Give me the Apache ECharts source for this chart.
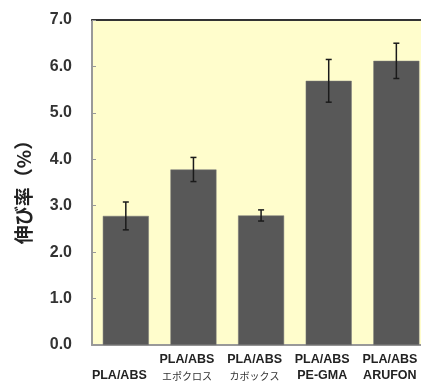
<!DOCTYPE html>
<html>
<head>
<meta charset="utf-8">
<script src="https://cdn.jsdelivr.net/npm/echarts@6/dist/echarts.min.js"></script>
<style>html,body{margin:0;padding:0;background:#fff;overflow:hidden;width:421px;height:387px;}#c{width:433px;height:387px;}</style>
</head>
<body>
<div id="c"></div>
<script>
const categories = ['PLA/ABS', 'PLA/ABS\nエポクロス', 'PLA/ABS\nカボックス', 'PLA/ABS\nPE-GMA', 'PLA/ABS\nARUFON'];
const values = [2.78, 3.78, 2.79, 5.69, 6.12];
const errors = [0.30, 0.26, 0.12, 0.46, 0.38];
const yTicks = [0, 1, 2, 3, 4, 5, 6, 7];
const yName = '伸び率（%）';

const chart = echarts.init(document.getElementById('c'));
const errData = values.map((v, i) => [i, v - errors[i], v + errors[i]]);

chart.setOption({
  animation: false,
  grid: {left: 92, top: 20, right: 0, bottom: 42, containLabel: false, show: true, backgroundColor: '#FFFDCC', borderWidth: 0},
  xAxis: [{
    type: 'category',
    data: categories,
    axisLine: {lineStyle: {color: '#999', width: 2}},
    axisTick: {inside: true, length: 4, lineStyle: {color: '#999'}},
    axisLabel: {
      margin: 7,
      interval: 0,
      formatter: function (v) {
        const p = v.split('\n');
        if (p.length === 1) return '{e| }\n{a|' + p[0] + '}';
        const second = /[A-Za-z]/.test(p[1]) ? '{a|' + p[1] + '}' : '{j|' + p[1] + '}';
        return '{a|' + p[0] + '}\n' + second;
      },
      rich: {
        a: {fontFamily: 'Liberation Sans, Arial', fontWeight: 'bold', fontSize: 12.5, color: '#222', lineHeight: 16, padding: [0, 13, 0, 0]},
        j: {fontFamily: 'Noto Sans CJK JP', fontSize: 10, color: '#333', lineHeight: 16, padding: [0, 13, 0, 0]},
        e: {fontSize: 12, lineHeight: 16}
      }
    }
  }, {
    type: 'category',
    position: 'top',
    data: categories,
    axisLine: {lineStyle: {color: '#333', width: 2}},
    axisTick: {show: false},
    axisLabel: {show: false}
  }],
  yAxis: {
    type: 'value',
    min: yTicks[0],
    max: yTicks[yTicks.length - 1],
    interval: 1,
    name: yName,
    nameLocation: 'middle',
    nameRotate: 90,
    nameGap: 59,
    nameTextStyle: {fontFamily: 'Noto Sans CJK JP', fontWeight: 'bold', fontSize: 19, color: '#222', padding: [0, 10, 0, 0]},
    axisLine: {show: true, lineStyle: {color: '#999', width: 2}},
    axisTick: {show: true, inside: true, length: 4, lineStyle: {color: '#999'}},
    splitLine: {show: false},
    axisLabel: {
      margin: 20,
      fontFamily: 'Liberation Sans, Arial',
      fontWeight: 'bold',
      fontSize: 16,
      color: '#333',
      formatter: v => v.toFixed(1)
    }
  },
  series: [{
    type: 'bar',
    data: values,
    barWidth: 46,
    itemStyle: {color: '#585858', borderColor: '#777', borderWidth: 0.5}
  }, {
    type: 'custom',
    data: errData,
    z: 10,
    renderItem: function (params, api) {
      const x = api.value(0);
      const lo = api.coord([x, api.value(1)]);
      const hi = api.coord([x, api.value(2)]);
      const w = 3;
      const st = {stroke: '#1a1a1a', lineWidth: 1.5};
      return {type: 'group', children: [
        {type: 'line', shape: {x1: lo[0], y1: lo[1], x2: hi[0], y2: hi[1]}, style: st},
        {type: 'line', shape: {x1: lo[0] - w, y1: lo[1], x2: lo[0] + w, y2: lo[1]}, style: st},
        {type: 'line', shape: {x1: hi[0] - w, y1: hi[1], x2: hi[0] + w, y2: hi[1]}, style: st}
      ]};
    }
  }]
});
</script>
</body>
</html>
